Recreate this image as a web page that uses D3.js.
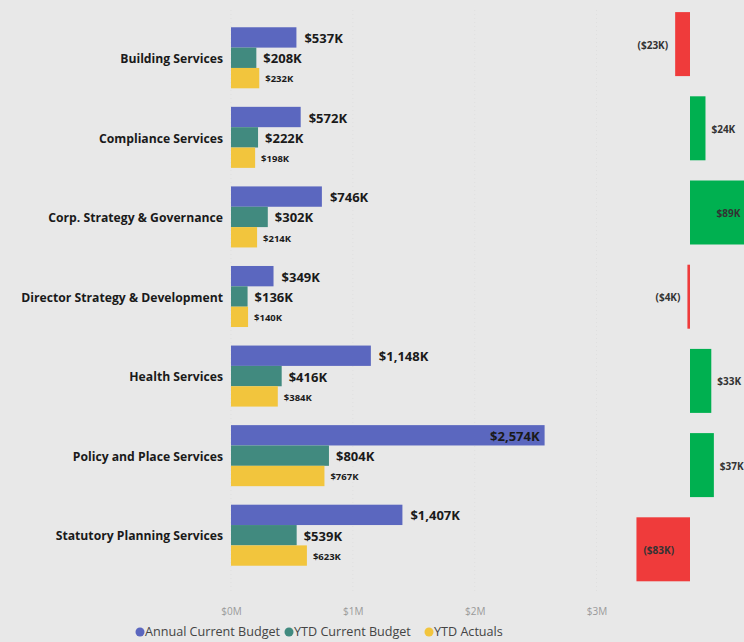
<!DOCTYPE html>
<html>
<head>
<meta charset="utf-8">
<script src="https://cdn.jsdelivr.net/npm/d3@7"></script>
<style>
  html, body { margin: 0; padding: 0; background: #e8e8e8; }
  svg { display: block; }
  text { font-family: "Open Sans", "Noto Sans", sans-serif; }
</style>
</head>
<body>
<svg id="chart" width="744" height="642"></svg>
<script>
// Budget figures per service unit, in $K
const categories = [
  "Building Services",
  "Compliance Services",
  "Corp. Strategy & Governance",
  "Director Strategy & Development",
  "Health Services",
  "Policy and Place Services",
  "Statutory Planning Services"
];
const annualBudget = [537, 572, 746, 349, 1148, 2574, 1407];
const ytdBudget    = [208, 222, 302, 136, 416, 804, 539];
const ytdActuals   = [232, 198, 214, 140, 384, 767, 623];
const variance     = [-23, 24, 89, -4, 33, 37, -83];
const seriesNames  = ["Annual Current Budget", "YTD Current Budget", "YTD Actuals"];
const tickValues   = [0, 1000, 2000, 3000];
const tickLabels   = ["$0M", "$1M", "$2M", "$3M"];

const colors = ["#5b67bf", "#418a7f", "#f2c53d"];
const posColor = "#00b050";
const negColor = "#ef3b3b";

const svg = d3.select("#chart");
const fmtK = v => "$" + d3.format(",")(v) + "K";
const fmtVar = v => v < 0 ? "(" + fmtK(-v) + ")" : fmtK(v);

// ---- clustered bar chart ----
const x = d3.scaleLinear().domain([0, 3000]).range([231, 596.5]);
const y = d3.scaleBand().domain(categories).range([18, 575]).paddingInner(0.233).paddingOuter(0.1165);
const sub = d3.scaleBand().domain([0, 1, 2]).range([0, y.bandwidth()]);

// faint vertical gridlines
svg.append("g").selectAll("line").data(tickValues).join("line")
  .attr("x1", d => x(d)).attr("x2", d => x(d))
  .attr("y1", 10).attr("y2", 592)
  .attr("stroke", "#dfdfdf").attr("stroke-dasharray", "1,3");

const rows = categories.map((c, i) => ({
  cat: c,
  vals: [annualBudget[i], ytdBudget[i], ytdActuals[i]]
}));

const group = svg.append("g").selectAll("g").data(rows).join("g")
  .attr("transform", d => `translate(0,${y(d.cat)})`);

group.selectAll("rect").data(d => d.vals).join("rect")
  .attr("x", x(0))
  .attr("y", (d, j) => sub(j))
  .attr("width", d => x(d) - x(0))
  .attr("height", sub.bandwidth())
  .attr("fill", (d, j) => colors[j]);

// value labels: outside end, or inside end when they would run past the plot
group.selectAll("text.val").data(d => d.vals).join("text")
  .attr("class", "val")
  .each(function (d, j) {
    const inside = x(d) + 70 > x(3000);
    d3.select(this)
      .attr("x", inside ? x(d) - 5 : x(d) + (j === 0 ? 8 : j === 1 ? 7 : 6))
      .attr("text-anchor", inside ? "end" : "start");
  })
  .attr("y", (d, j) => sub(j) + sub.bandwidth() / 2 + 1)
  .attr("dy", "0.35em")
  .attr("font-size", (d, j) => j === 2 ? 9.5 : 13)
  .attr("font-weight", 700)
  .attr("fill", "#1a1a1a")
  .text(d => fmtK(d));

// category labels
svg.append("g").selectAll("text").data(categories).join("text")
  .attr("x", 223)
  .attr("y", d => y(d) + y.bandwidth() / 2 + 1)
  .attr("dy", "0.35em")
  .attr("text-anchor", "end")
  .attr("font-size", 12.2)
  .attr("font-weight", 700)
  .attr("fill", "#1a1a1a")
  .text(d => d);

// x axis
const axis = svg.append("g")
  .attr("transform", "translate(0,605)")
  .call(d3.axisBottom(x).tickValues(tickValues).tickSize(0).tickFormat((d, i) => tickLabels[i]));
axis.select(".domain").remove();
axis.selectAll("text").attr("font-size", 10).attr("fill", "#9a9a9a")
  .attr("font-family", "\"Open Sans\", sans-serif");

// ---- variance bars ----
const vx = d3.scaleLinear().domain([-100, 100]).range([625.5, 754.5]);
const vy = d3.scaleBand().domain(categories).range([2, 591.4]).paddingInner(0.24).paddingOuter(0.12);

const vg = svg.append("g");
vg.selectAll("rect").data(variance).join("rect")
  .attr("x", d => Math.min(vx(d), vx(0)))
  .attr("y", (d, i) => vy(categories[i]))
  .attr("width", d => Math.abs(vx(d) - vx(0)))
  .attr("height", vy.bandwidth())
  .attr("fill", d => d < 0 ? negColor : posColor);

vg.selectAll("text").data(variance).join("text")
  .each(function (d) {
    const w = Math.abs(vx(d) - vx(0));
    const inside = w > 45;
    let xp, anchor;
    if (d < 0) { xp = inside ? vx(d) + 7 : vx(d) - 7; anchor = inside ? "start" : "end"; }
    else { xp = inside ? vx(d) - 7 : vx(d) + 6; anchor = inside ? "end" : "start"; }
    d3.select(this).attr("x", xp).attr("text-anchor", anchor);
  })
  .attr("y", (d, i) => vy(categories[i]) + vy.bandwidth() / 2 + 1)
  .attr("dy", "0.35em")
  .attr("font-size", 10)
  .attr("font-weight", 700)
  .attr("fill", "#333")
  .text(d => fmtVar(d));

// legend
const legend = svg.append("g").attr("transform", "translate(0,632)");
const legendX = [140, 289, 429];
seriesNames.forEach((n, i) => {
  legend.append("circle").attr("cx", legendX[i]).attr("cy", 0).attr("r", 4.5).attr("fill", colors[i]);
  legend.append("text").attr("x", legendX[i] + 5).attr("y", 0).attr("dy", "0.35em")
    .attr("font-size", 12.6).attr("fill", "#444").text(n);
});
</script>
</body>
</html>
